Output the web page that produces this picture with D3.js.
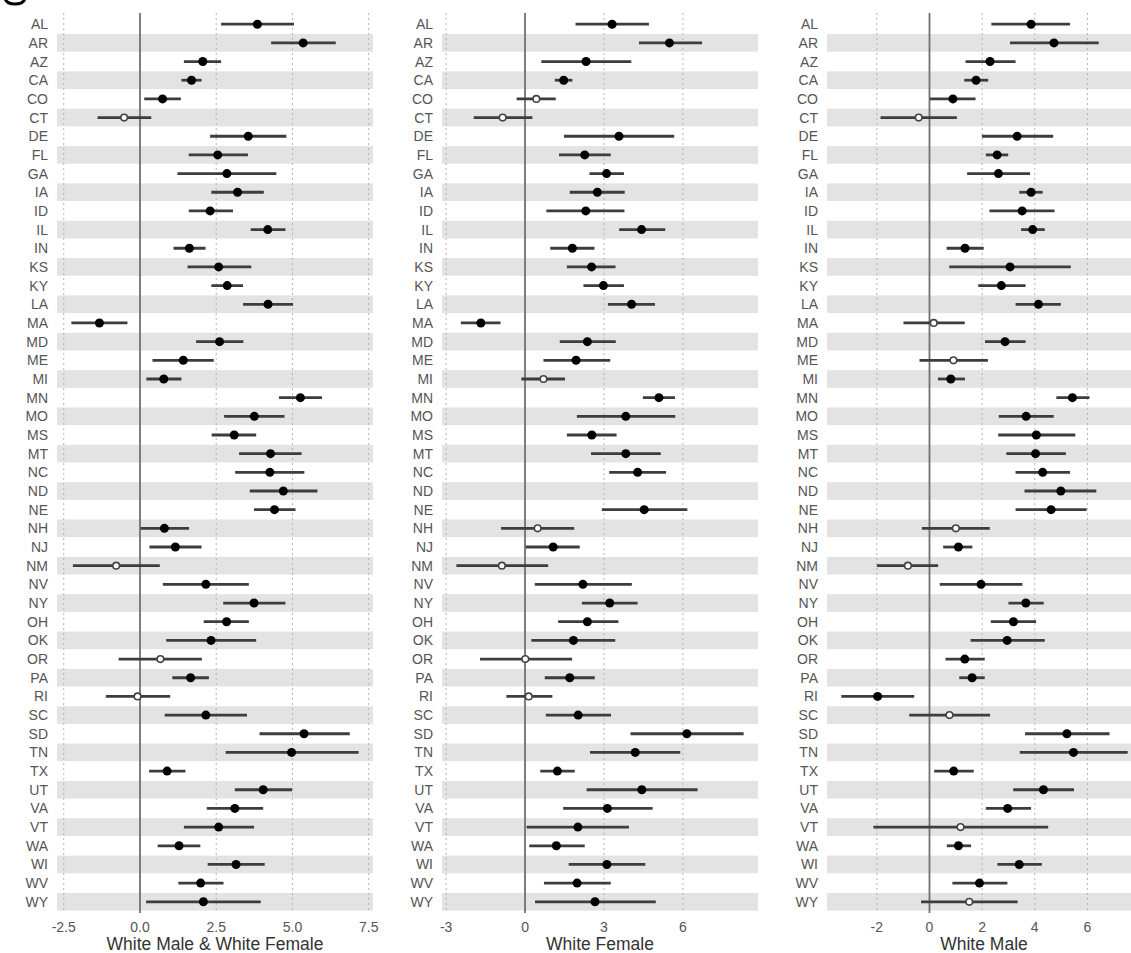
<!DOCTYPE html>
<html>
<head>
<meta charset="utf-8">
<script src="https://cdn.jsdelivr.net/npm/d3@7/dist/d3.min.js"></script>
<style>
  html, body { margin: 0; padding: 0; background: #fff; }
  svg { display: block; }
  text { font-family: "Liberation Sans", Arial, Helvetica, sans-serif; }
</style>
</head>
<body>
<svg id="chart" width="1131" height="953"></svg>
<script>
const states = ["AL","AR","AZ","CA","CO","CT","DE","FL","GA","IA","ID","IL","IN","KS","KY","LA","MA","MD","ME","MI","MN","MO","MS","MT","NC","ND","NE","NH","NJ","NM","NV","NY","OH","OK","OR","PA","RI","SC","SD","TN","TX","UT","VA","VT","WA","WI","WV","WY"];

// Panel 1: White Male & White Female
const bothEst = [3.85,5.35,2.06,1.69,0.74,-0.52,3.55,2.55,2.85,3.20,2.30,4.19,1.62,2.58,2.86,4.20,-1.33,2.61,1.42,0.78,5.26,3.75,3.09,4.28,4.26,4.70,4.41,0.80,1.16,-0.78,2.16,3.74,2.84,2.33,0.67,1.66,-0.08,2.16,5.38,4.97,0.89,4.04,3.11,2.58,1.28,3.15,1.99,2.08];
const bothLo  = [2.66,4.30,1.44,1.36,0.14,-1.39,2.30,1.60,1.23,2.34,1.60,3.63,1.10,1.56,2.34,3.38,-2.25,1.84,0.41,0.21,4.56,2.76,2.35,3.25,3.12,3.60,3.74,0.02,0.31,-2.20,0.75,2.73,2.09,0.86,-0.70,1.06,-1.12,0.81,3.92,2.81,0.30,3.11,2.19,1.44,0.58,2.22,1.26,0.20];
const bothHi  = [5.05,6.42,2.66,2.02,1.34,0.37,4.80,3.54,4.47,4.06,3.05,4.77,2.15,3.65,3.38,5.02,-0.41,3.39,2.42,1.36,5.97,4.74,3.81,5.30,5.39,5.82,5.10,1.61,2.02,0.65,3.57,4.77,3.57,3.81,2.03,2.26,0.99,3.51,6.88,7.17,1.49,4.99,4.04,3.74,1.98,4.09,2.74,3.96];

// Panel 2: White Female (ND missing)
const femEst = [3.31,5.49,2.32,1.47,0.43,-0.85,3.57,2.27,3.10,2.75,2.31,4.43,1.80,2.53,2.98,4.05,-1.68,2.37,1.94,0.70,5.09,3.83,2.54,3.83,4.28,null,4.53,0.48,1.07,-0.88,2.20,3.22,2.37,1.84,0.01,1.70,0.14,2.02,6.15,4.19,1.23,4.44,3.13,2.01,1.19,3.11,1.98,2.66];
const femLo  = [1.92,4.33,0.62,1.13,-0.32,-1.95,1.48,1.29,2.45,1.70,0.81,3.58,0.96,1.59,2.22,3.15,-2.44,1.32,0.70,-0.14,4.48,1.97,1.59,2.51,3.20,null,2.92,-0.91,0.03,-2.61,0.37,2.16,1.26,0.24,-1.71,0.75,-0.71,0.79,4.01,2.47,0.58,2.34,1.45,0.06,0.16,1.66,0.72,0.38];
const femHi  = [4.71,6.73,4.04,1.80,1.17,0.28,5.67,3.26,3.76,3.79,3.78,5.33,2.64,3.44,3.76,4.94,-0.93,3.45,3.24,1.52,5.70,5.71,3.48,5.16,5.36,null,6.17,1.87,2.08,0.88,4.06,4.28,3.55,3.43,1.79,2.65,1.04,3.27,8.31,5.90,1.89,6.56,4.85,3.95,2.27,4.57,3.26,4.97];

// Panel 3: White Male
const maleEst = [3.86,4.73,2.30,1.77,0.89,-0.41,3.33,2.57,2.62,3.86,3.52,3.92,1.35,3.06,2.73,4.14,0.16,2.87,0.91,0.81,5.43,3.67,4.06,4.03,4.30,4.99,4.62,1.00,1.10,-0.82,1.96,3.66,3.19,2.95,1.34,1.62,-1.97,0.76,5.22,5.47,0.92,4.33,2.97,1.18,1.10,3.41,1.90,1.51];
const maleLo  = [2.35,3.06,1.37,1.32,0.02,-1.86,1.99,2.14,1.43,3.41,2.28,3.48,0.65,0.75,1.85,3.27,-0.99,2.11,-0.38,0.32,4.82,2.63,2.61,2.92,3.27,3.61,3.27,-0.29,0.52,-2.00,0.39,3.00,2.33,1.56,0.61,1.13,-3.35,-0.77,3.63,3.43,0.18,3.18,2.14,-2.13,0.66,2.58,0.87,-0.32];
const maleHi  = [5.34,6.43,3.27,2.23,1.75,1.04,4.70,2.99,3.82,4.30,4.75,4.38,2.06,5.37,3.65,4.99,1.34,3.65,2.22,1.35,6.08,4.72,5.54,5.18,5.34,6.34,5.97,2.29,1.63,0.33,3.53,4.34,4.05,4.38,2.10,2.10,-0.58,2.30,6.84,7.53,1.68,5.49,3.86,4.51,1.58,4.27,2.96,3.35];

const titles = ["White Male & White Female", "White Female", "White Male"];
const tickSets = [[-2.5, 0, 2.5, 5, 7.5], [-3, 0, 3, 6], [-2, 0, 2, 4, 6]];

const hyphen = f => v => f(v).replace("\u2212", "-");
const panels = [
  { title: titles[0], est: bothEst, lo: bothLo, hi: bothHi,
    ticks: tickSets[0], fmt: hyphen(d3.format(".1f")), px: [57, 373] },
  { title: titles[1], est: femEst, lo: femLo, hi: femHi,
    ticks: tickSets[1], fmt: hyphen(d3.format("d")), px: [442, 758] },
  { title: titles[2], est: maleEst, lo: maleLo, hi: maleHi,
    ticks: tickSets[2], fmt: hyphen(d3.format("d")), px: [827, 1142] }
];

const svg = d3.select("#chart");
const plotTop = 13, plotBottom = 913;
const y = d3.scalePoint().domain(states).range([plotTop, plotBottom]).padding(0.6);
const step = y.step();

// cut-off glyph fragment at the very top-left of the picture
svg.append("path").attr("d", "M5,-2 Q6,4 15,4 Q24,4 25,-2")
  .attr("fill", "none").attr("stroke", "#000").attr("stroke-width", 3);

panels.forEach(p => {
  const vals = p.lo.concat(p.hi).filter(v => v !== null);
  const ext = d3.extent(vals);
  const pad = (ext[1] - ext[0]) * 0.05;
  const x = d3.scaleLinear().domain([ext[0] - pad, ext[1] + pad]).range(p.px);
  const g = svg.append("g");

  // alternating bands
  g.selectAll("rect.band").data(states.filter((s, i) => i % 2 === 1)).enter()
    .append("rect").attr("class", "band")
    .attr("x", p.px[0]).attr("width", p.px[1] - p.px[0])
    .attr("y", d => y(d) - step / 2 + 0.5).attr("height", step - 1)
    .attr("fill", "#e3e3e3");

  // dotted grid
  g.selectAll("line.grid").data(p.ticks.filter(t => t !== 0)).enter()
    .append("line").attr("class", "grid")
    .attr("x1", d => x(d)).attr("x2", d => x(d))
    .attr("y1", plotTop).attr("y2", plotBottom)
    .attr("stroke", "#b3b3b3").attr("stroke-width", 1).attr("stroke-dasharray", "2,3");

  // zero line
  g.append("line").attr("x1", x(0)).attr("x2", x(0)).attr("y1", plotTop).attr("y2", plotBottom)
    .attr("stroke", "#707070").attr("stroke-width", 1.8);

  const rows = states.map((s, i) => ({ s, est: p.est[i], lo: p.lo[i], hi: p.hi[i] }))
    .filter(d => d.est !== null);

  // intervals
  g.selectAll("line.ci").data(rows).enter().append("line").attr("class", "ci")
    .attr("x1", d => x(d.lo)).attr("x2", d => x(d.hi))
    .attr("y1", d => y(d.s)).attr("y2", d => y(d.s))
    .attr("stroke", "#3d3d3d").attr("stroke-width", 2.8);

  // points
  g.selectAll("circle.pt").data(rows).enter().append("circle").attr("class", "pt")
    .attr("cx", d => x(d.est)).attr("cy", d => y(d.s))
    .attr("r", d => (d.lo <= 0 && d.hi >= 0) ? 3.3 : 4.5)
    .attr("fill", d => (d.lo <= 0 && d.hi >= 0) ? "#fff" : "#000")
    .attr("stroke", d => (d.lo <= 0 && d.hi >= 0) ? "#444" : "none")
    .attr("stroke-width", 1.6);

  // y labels
  g.selectAll("text.ylab").data(states).enter().append("text").attr("class", "ylab")
    .attr("x", p.px[0] - 9).attr("y", d => y(d)).attr("dy", "0.36em")
    .attr("text-anchor", "end").attr("font-size", 14).attr("fill", "#555")
    .text(d => d);

  // x tick labels
  g.selectAll("text.xtick").data(p.ticks).enter().append("text").attr("class", "xtick")
    .attr("x", d => x(d)).attr("y", 932)
    .attr("text-anchor", "middle").attr("font-size", 14).attr("fill", "#555")
    .text(d => p.fmt(d));

  // axis title
  g.append("text").attr("x", (p.px[0] + Math.min(p.px[1], 1131)) / 2 + (p.px[1] > 1131 ? 5 : 0))
    .attr("y", 950).attr("text-anchor", "middle").attr("font-size", 17.5).attr("fill", "#333")
    .text(p.title);
});
</script>
</body>
</html>
